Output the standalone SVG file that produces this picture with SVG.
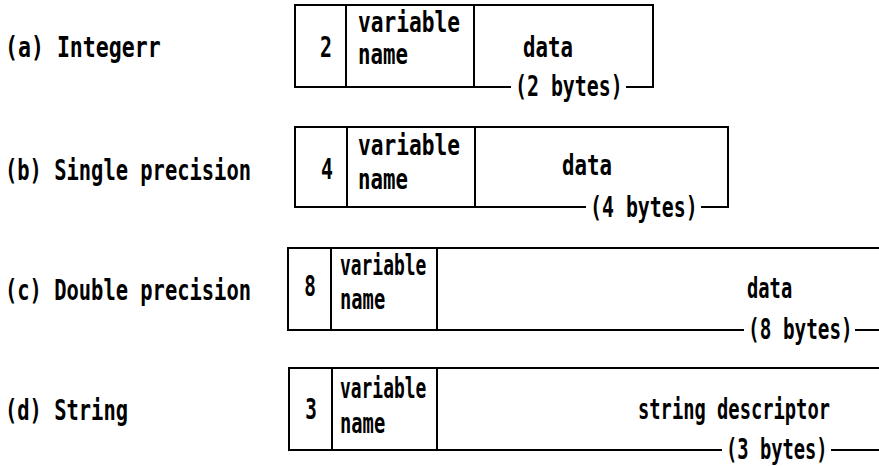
<svg xmlns="http://www.w3.org/2000/svg" width="879" height="466" viewBox="0 0 879 466">
  <style>
    .ln { stroke: #000; stroke-width: 2; fill: none; stroke-linecap: square; }
    .t { font-family: "DejaVu Sans Mono", "Liberation Mono", monospace; font-weight: bold; font-size: 28px; fill: #000; }
    .m { text-anchor: middle; }
  </style>
  <rect width="879" height="466" fill="#fff"/>

  <!-- (a) integer entry: type byte, name, 2-byte value -->
  <g id="row-integer">
    <text class="t" transform="translate(5 57) scale(0.77 1)">(a) Integerr</text>
    <path class="ln" d="M295 5 H653 V87 H627 M510 87 H295 V5 M346 5 V87 M474 5 V87"/>
    <text class="t m" transform="translate(326 57) scale(0.71 1)">2</text>
    <text class="t" transform="translate(358 32) scale(0.756 1)">variable</text>
    <text class="t" transform="translate(358 64) scale(0.74 1)">name</text>
    <text class="t" transform="translate(523 57) scale(0.74 1)">data</text>
    <text class="t" transform="translate(515 96) scale(0.71 1)">(2 bytes)</text>
  </g>

  <!-- (b) single precision entry: 4-byte value -->
  <g id="row-single">
    <text class="t" transform="translate(5 180) scale(0.73 1)">(b) Single precision</text>
    <path class="ln" d="M295 127 H728 V207 H702 M585 207 H295 V127 M347 127 V207 M475 127 V207"/>
    <text class="t m" transform="translate(327 179) scale(0.71 1)">4</text>
    <text class="t" transform="translate(358 155) scale(0.756 1)">variable</text>
    <text class="t" transform="translate(358 189) scale(0.74 1)">name</text>
    <text class="t" transform="translate(562 175) scale(0.74 1)">data</text>
    <text class="t" transform="translate(590 217) scale(0.71 1)">(4 bytes)</text>
  </g>

  <!-- (c) double precision entry: 8-byte value, runs off the right edge -->
  <g id="row-double">
    <text class="t" transform="translate(5 300) scale(0.73 1)">(c) Double precision</text>
    <path class="ln" d="M879 248 H288 V330 H743 M856 330 H879 M331 248 V330 M437 248 V330"/>
    <text class="t m" transform="translate(310 296) scale(0.69 1)">8</text>
    <text class="t" transform="translate(340 275) scale(0.64 1)">variable</text>
    <text class="t" transform="translate(340 309) scale(0.67 1)">name</text>
    <text class="t" transform="translate(747 298) scale(0.67 1)">data</text>
    <text class="t" transform="translate(748 339) scale(0.69 1)">(8 bytes)</text>
  </g>

  <!-- (d) string entry: 3-byte string descriptor -->
  <g id="row-string">
    <text class="t" transform="translate(5 420) scale(0.73 1)">(d) String</text>
    <path class="ln" d="M879 368 H289 V450 H721 M832 450 H879 M332 368 V450 M437 368 V450"/>
    <text class="t m" transform="translate(311 419) scale(0.69 1)">3</text>
    <text class="t" transform="translate(340 398) scale(0.64 1)">variable</text>
    <text class="t" transform="translate(340 433) scale(0.67 1)">name</text>
    <text class="t" transform="translate(638 419) scale(0.67 1)">string descriptor</text>
    <text class="t" transform="translate(726 459) scale(0.67 1)">(3 bytes)</text>
  </g>

  <g id="connectors"/>
</svg>
